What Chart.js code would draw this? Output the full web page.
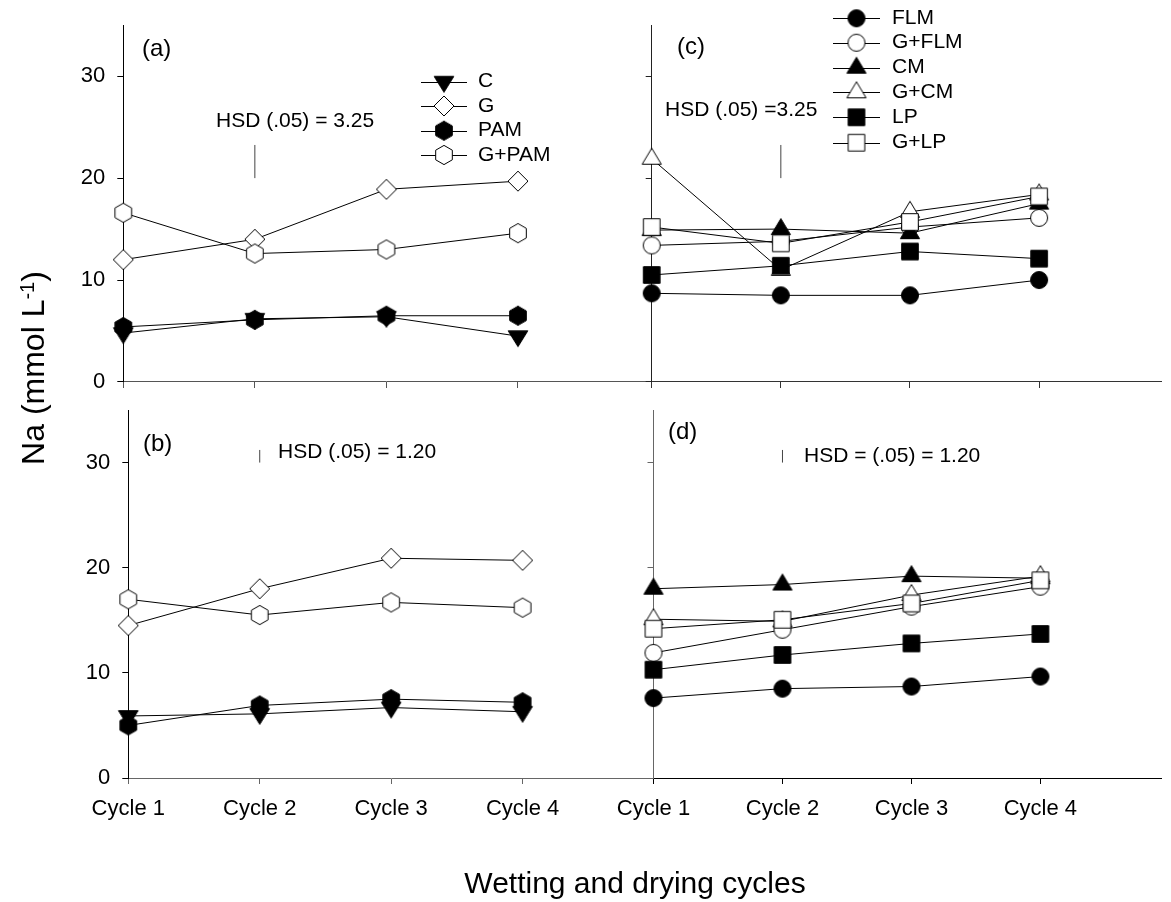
<!DOCTYPE html>
<html>
<head>
<meta charset="utf-8">
<title>Na wetting and drying cycles</title>
<script src="https://cdn.jsdelivr.net/npm/chart.js@4.4.1/dist/chart.umd.min.js"></script>
<style>
    html, body { margin: 0; padding: 0; background: #fff; }
    #wrap { position: relative; width: 1171px; height: 902px; }
    #wrap canvas { position: absolute; left: 0; top: 0; }
</style>
</head>
<body>
<div id="wrap">
    <canvas id="panelA" width="1171" height="902"></canvas>
    <canvas id="panelC" width="1171" height="902"></canvas>
    <canvas id="panelB" width="1171" height="902"></canvas>
    <canvas id="panelD" width="1171" height="902"></canvas>
</div>
<script>
// x labels and y ticks
const cycleLabels = ['Cycle 1', 'Cycle 2', 'Cycle 3', 'Cycle 4'];
const yTickValues = [0, 10, 20, 30];

// Panel (a)
const a_C = [4.8, 6.2, 6.4, 4.5];
const a_G = [12.0, 14.0, 18.9, 19.7];
const a_PAM = [5.4, 6.1, 6.5, 6.5];
const a_GPAM = [16.6, 12.6, 13.0, 14.6];

// Panel (b)
const b_C = [5.9, 6.1, 6.7, 6.3];
const b_G = [14.5, 18.0, 20.9, 20.7];
const b_PAM = [5.0, 6.9, 7.5, 7.2];
const b_GPAM = [17.0, 15.5, 16.7, 16.2];

// Panel (c)
const c_FLM = [8.7, 8.5, 8.5, 10.0];
const c_GFLM = [13.4, 13.8, 15.2, 16.1];
const c_CM = [14.9, 15.0, 14.6, 17.5];
const c_GCM = [21.9, 11.0, 16.7, 18.4];
const c_LP = [10.5, 11.4, 12.8, 12.1];
const c_GLP = [15.2, 13.6, 15.7, 18.2];

// Panel (d)
const d_FLM = [7.6, 8.5, 8.7, 9.65];
const d_GFLM = [11.9, 14.1, 16.3, 18.2];
const d_CM = [18.0, 18.4, 19.2, 19.0];
const d_GCM = [15.1, 14.9, 17.4, 19.2];
const d_LP = [10.3, 11.7, 12.8, 13.7];
const d_GLP = [14.2, 15.05, 16.6, 18.8];

// HSD bars (low, high) drawn at Cycle 2
const hsdTop = [20, 23.25];
const hsdBottom = [30, 31.2];

const FONT = '"Liberation Sans", Arial, sans-serif';
Chart.defaults.font.family = FONT;
Chart.defaults.font.size = 22;
Chart.defaults.color = '#000';

// marker images (SigmaPlot style symbols)
function makeMarker(shape, filled) {
    const c = document.createElement('canvas');
    c.width = 26;
    c.height = 26;
    const g = c.getContext('2d');
    g.translate(13, 13);
    g.beginPath();
    if (shape === 'circle') {
        g.arc(0, 0, 8.5, 0, Math.PI * 2);
    } else if (shape === 'square') {
        g.rect(-8.3, -8.3, 16.6, 16.6);
    } else if (shape === 'diamond') {
        g.moveTo(0, -10); g.lineTo(10, 0); g.lineTo(0, 10); g.lineTo(-10, 0); g.closePath();
    } else if (shape === 'triUp') {
        g.moveTo(0, -10.5); g.lineTo(9.6, 5.5); g.lineTo(-9.6, 5.5); g.closePath();
    } else if (shape === 'triDown') {
        g.moveTo(0, 10.5); g.lineTo(9.8, -5.3); g.lineTo(-9.8, -5.3); g.closePath();
    } else if (shape === 'hex') {
        for (let k = 0; k < 6; k++) {
            const ang = -Math.PI / 2 + k * Math.PI / 3;
            const px = 9.6 * Math.cos(ang), py = 9.6 * Math.sin(ang);
            if (k === 0) g.moveTo(px, py); else g.lineTo(px, py);
        }
        g.closePath();
    }
    g.fillStyle = filled ? '#000' : '#fff';
    g.fill();
    g.lineWidth = 1;
    g.strokeStyle = '#000';
    g.stroke();
    return c;
}

const mk = {
    triDownF: makeMarker('triDown', true),
    diamondO: makeMarker('diamond', false),
    hexF: makeMarker('hex', true),
    hexO: makeMarker('hex', false),
    circleF: makeMarker('circle', true),
    circleO: makeMarker('circle', false),
    triUpF: makeMarker('triUp', true),
    triUpO: makeMarker('triUp', false),
    squareF: makeMarker('square', true),
    squareO: makeMarker('square', false)
};

const leftSeriesA = [
    { label: 'C', values: a_C, marker: mk.triDownF },
    { label: 'G', values: a_G, marker: mk.diamondO },
    { label: 'PAM', values: a_PAM, marker: mk.hexF },
    { label: 'G+PAM', values: a_GPAM, marker: mk.hexO }
];
const leftSeriesB = [
    { label: 'C', values: b_C, marker: mk.triDownF },
    { label: 'G', values: b_G, marker: mk.diamondO },
    { label: 'PAM', values: b_PAM, marker: mk.hexF },
    { label: 'G+PAM', values: b_GPAM, marker: mk.hexO }
];
const rightSeriesC = [
    { label: 'FLM', values: c_FLM, marker: mk.circleF },
    { label: 'G+FLM', values: c_GFLM, marker: mk.circleO },
    { label: 'CM', values: c_CM, marker: mk.triUpF },
    { label: 'G+CM', values: c_GCM, marker: mk.triUpO },
    { label: 'LP', values: c_LP, marker: mk.squareF },
    { label: 'G+LP', values: c_GLP, marker: mk.squareO }
];
const rightSeriesD = [
    { label: 'FLM', values: d_FLM, marker: mk.circleF },
    { label: 'G+FLM', values: d_GFLM, marker: mk.circleO },
    { label: 'CM', values: d_CM, marker: mk.triUpF },
    { label: 'G+CM', values: d_GCM, marker: mk.triUpO },
    { label: 'LP', values: d_LP, marker: mk.squareF },
    { label: 'G+LP', values: d_GLP, marker: mk.squareO }
];

// text drawn on top of a panel: label, HSD note, legend, titles
function extrasPlugin(ex) {
    return {
        id: 'extras',
        afterDraw(chart) {
            const ctx = chart.ctx;
            ctx.save();
            ctx.fillStyle = '#000';
            ctx.textBaseline = 'middle';
            ctx.textAlign = 'left';
            ctx.font = '24px ' + FONT;
            ctx.fillText(ex.tag[0], ex.tag[1], ex.tag[2]);
            ctx.font = '21px ' + FONT;
            ctx.fillText(ex.hsd[0], ex.hsd[1], ex.hsd[2]);
            if (ex.legend) {
                const lg = ex.legend;
                lg.series.forEach((s, i) => {
                    const y = lg.rows[i];
                    ctx.strokeStyle = '#000';
                    ctx.lineWidth = 1;
                    ctx.beginPath();
                    ctx.moveTo(lg.x1, Math.round(y) + 0.5);
                    ctx.lineTo(lg.x2, Math.round(y) + 0.5);
                    ctx.stroke();
                    const m = s.marker;
                    ctx.drawImage(m, (lg.x1 + lg.x2) / 2 - m.width / 2, y - m.height / 2);
                    ctx.fillText(s.label, lg.tx, y);
                });
            }
            if (ex.titles) {
                // x title
                ctx.font = '30px ' + FONT;
                ctx.textAlign = 'center';
                ctx.fillText('Wetting and drying cycles', 635, 885);
                // y title with superscript
                ctx.textAlign = 'left';
                ctx.textBaseline = 'alphabetic';
                const big = '32px ' + FONT, small = '20px ' + FONT;
                ctx.font = big;
                const w1 = ctx.measureText('Na (mmol L').width;
                const w3 = ctx.measureText(')').width;
                ctx.font = small;
                const w2 = ctx.measureText('-1').width;
                const total = w1 + w2 + w3;
                ctx.translate(44, 368);
                ctx.rotate(-Math.PI / 2);
                ctx.font = big;
                ctx.fillText('Na (mmol L', -total / 2, 0);
                ctx.font = small;
                ctx.fillText('-1', -total / 2 + w1, -10);
                ctx.font = big;
                ctx.fillText(')', -total / 2 + w1 + w2, 0);
            }
            ctx.restore();
        }
    };
}

function drawPanel(canvasId, box, series, hsd, ex) {
    const n = series.length;
    const datasets = series.map((s, i) => ({
        label: s.label,
        data: s.values.map((v, k) => ({ x: k, y: v })),
        borderColor: '#000',
        borderWidth: 1,
        pointStyle: s.marker,
        pointRadius: 9,
        clip: false,
        order: n - i
    }));
    // HSD bar
    datasets.push({
        label: 'HSD',
        data: [{ x: 1, y: hsd[0] }, { x: 1, y: hsd[1] }],
        borderColor: '#444',
        borderWidth: 1,
        pointRadius: 0,
        clip: false,
        order: n + 1
    });

    const ctx = document.getElementById(canvasId).getContext('2d');
    return new Chart(ctx, {
        type: 'line',
        data: { datasets: datasets },
        options: {
            responsive: false,
            animation: false,
            events: [],
            layout: {
                padding: {
                    left: box.left - box.yW,
                    right: 1171 - box.right,
                    top: box.top,
                    bottom: 902 - box.bottom - box.xH
                }
            },
            plugins: { legend: { display: false }, tooltip: { enabled: false } },
            scales: {
                x: {
                    type: 'linear',
                    min: 0,
                    max: box.xMax,
                    afterBuildTicks: s => { s.ticks = [0, 1, 2, 3].map(v => ({ value: v })); },
                    afterFit: s => { s.height = box.xH; },
                    border: { display: true, color: box.xColor, width: 1 },
                    grid: { drawOnChartArea: false, drawTicks: true, tickLength: 6, color: box.xColor },
                    ticks: {
                        autoSkip: false,
                        maxRotation: 0,
                        padding: 12,
                        font: { size: 22 },
                        callback: v => box.xLabels ? cycleLabels[v] : ''
                    }
                },
                y: {
                    type: 'linear',
                    min: 0,
                    max: 35,
                    afterBuildTicks: s => { s.ticks = yTickValues.map(v => ({ value: v })); },
                    afterFit: s => { s.width = box.yW; },
                    border: { display: true, color: box.yColor, width: 1 },
                    grid: { drawOnChartArea: false, drawTicks: true, tickLength: 6, color: box.yColor },
                    ticks: {
                        padding: 12,
                        font: { size: 22 },
                        callback: v => box.yLabels ? String(v) : ''
                    }
                }
            }
        },
        plugins: [extrasPlugin(ex)]
    });
}

drawPanel('panelA',
    { left: 123.3, right: 649.5, top: 14, bottom: 382, xMax: 4, yW: 60, xH: 8,
      xLabels: false, yLabels: true, xColor: '#555', yColor: '#000' },
    leftSeriesA, hsdTop,
    { tag: ['(a)', 142, 49], hsd: ['HSD (.05) = 3.25', 216, 121],
      legend: { series: leftSeriesA, rows: [81.7, 106, 130.7, 155], x1: 421, x2: 467, tx: 478 } });

drawPanel('panelC',
    { left: 651.7, right: 1171, top: 14, bottom: 382, xMax: 3.944, yW: 8, xH: 8,
      xLabels: false, yLabels: false, xColor: '#333', yColor: '#222' },
    rightSeriesC, hsdTop,
    { tag: ['(c)', 677, 47], hsd: ['HSD (.05) =3.25', 665, 110],
      legend: { series: rightSeriesC, rows: [18.3, 42.7, 67.7, 92.3, 117.3, 142.7], x1: 833, x2: 880, tx: 892 } });

drawPanel('panelB',
    { left: 128.3, right: 654, top: 410, bottom: 778, xMax: 4, yW: 60, xH: 44,
      xLabels: true, yLabels: true, xColor: '#666', yColor: '#000' },
    leftSeriesB, hsdBottom,
    { tag: ['(b)', 143, 444], hsd: ['HSD (.05) = 1.20', 278, 452], titles: true });

drawPanel('panelD',
    { left: 653.5, right: 1171, top: 410, bottom: 778, xMax: 3.935, yW: 8, xH: 44,
      xLabels: true, yLabels: false, xColor: '#000', yColor: '#666' },
    rightSeriesD, hsdBottom,
    { tag: ['(d)', 668, 432], hsd: ['HSD = (.05) = 1.20', 804, 456] });
</script>
</body>
</html>
